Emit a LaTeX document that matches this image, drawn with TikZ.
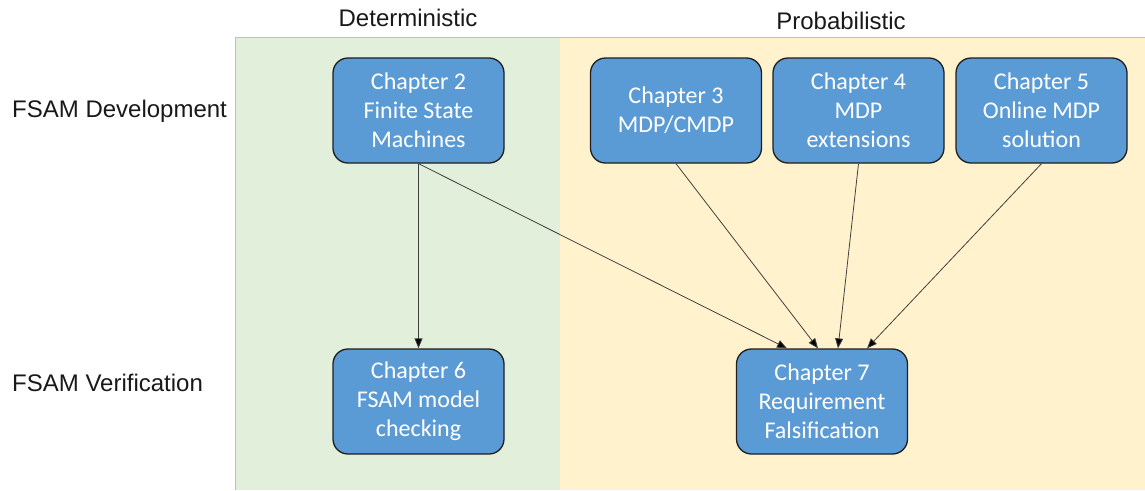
\documentclass[tikz,border=0pt]{standalone}
\usepackage{fontspec}
\setmainfont{Liberation Sans}
\newfontfamily\boxfont{Carlito}
\usetikzlibrary{arrows.meta,calc}
\definecolor{detgreen}{HTML}{E2EFDA}
\definecolor{probyellow}{HTML}{FFF2CC}
\definecolor{chapblue}{HTML}{5B9BD5}
\definecolor{frameline}{HTML}{BFBFBF}
\definecolor{linkgray}{HTML}{404040}
\tikzset{
  chapter/.style={draw=black!88, line width=1.3pt, fill=chapblue, rounded corners=15pt,
    minimum width=171pt, minimum height=105pt, inner sep=0pt, text=white,
    align=center, font=\boxfont\fontsize{24}{29}\selectfont},
  rowlabel/.style={anchor=west, inner sep=0pt, font=\fontsize{24}{29}\selectfont, text=black!90},
  collabel/.style={inner sep=0pt, font=\fontsize{24}{29}\selectfont, text=black!90},
  link/.style={draw=linkgray, line width=0.8pt, -{Triangle[length=10pt,width=8pt,fill=black]}}
}
\begin{document}
\begin{tikzpicture}[x=1pt,y=-1pt]
\useasboundingbox (0,0) rectangle (1145,490);
% column backgrounds
\fill[detgreen] (235,37) rectangle (560,490);
\fill[probyellow] (560,37) rectangle (1145,490);
\draw[frameline, line width=1pt] (235,490) -- (235,37) -- (1145,37);
% column and row headings
\node[collabel] (det) at (408,18) {Deterministic};
\node[collabel] (prob) at (841,21) {Probabilistic};
\node[rowlabel] (dev) at (12,111) {FSAM Development};
\node[rowlabel] (ver) at (12,383) {FSAM Verification};
% chapters
\node[chapter] (ch2) at (418.5,110.5) {Chapter 2\\Finite State\\Machines};
\node[chapter] (ch3) at (676,110.5) {Chapter 3\\MDP/CMDP};
\node[chapter] (ch4) at (858.5,110.5) {Chapter 4\\MDP\\extensions};
\node[chapter] (ch5) at (1041.5,110.5) {Chapter 5\\Online MDP\\solution};
\node[chapter] (ch6) at (418.5,401.5) {Chapter 6\\FSAM model\\checking};
\node[chapter] (ch7) at (822,401.5) {Chapter 7\\Requirement\\Falsification};
% dependencies
\draw[link] (ch2.south) -- (ch6.north);
\draw[link] (ch2.south) -- ($(ch7.north)+(-35,0)$);
\draw[link] (ch3.south) -- ($(ch7.north)+(-4,0)$);
\draw[link] (ch4.south) -- ($(ch7.north)+(16,0)$);
\draw[link] (ch5.south) -- ($(ch7.north)+(45,0)$);
\end{tikzpicture}
\end{document}
